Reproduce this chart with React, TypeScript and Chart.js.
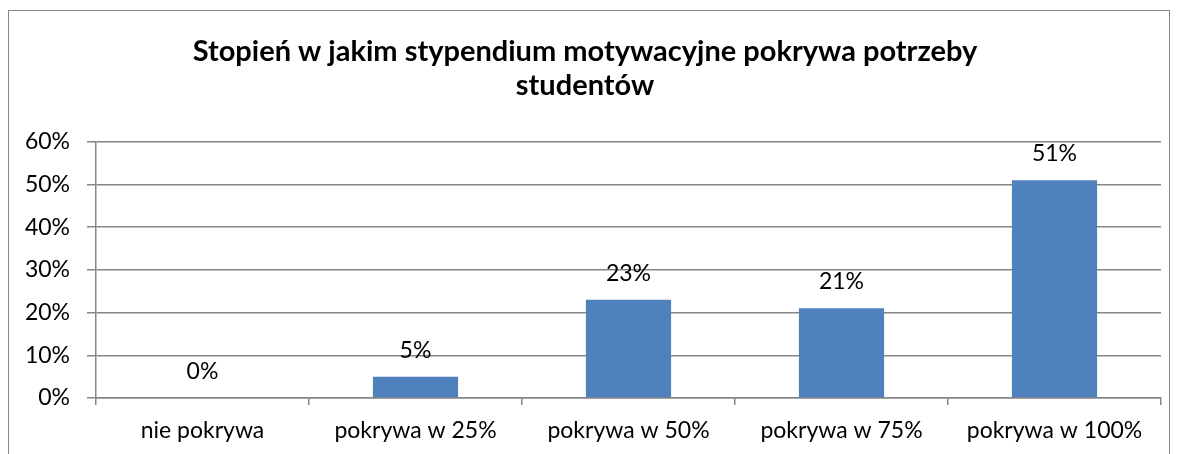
import React, { useEffect, useRef } from "react";
import { Chart, registerables } from "chart.js";

Chart.register(...registerables);

const categories = ["nie pokrywa", "pokrywa w 25%", "pokrywa w 50%", "pokrywa w 75%", "pokrywa w 100%"];
const values = [0, 5, 23, 21, 51];
const titleLines = ["Stopień w jakim stypendium motywacyjne pokrywa potrzeby", "studentów"];
const yMin = 0;
const yMax = 60;
const yStep = 10;

const FONT = "Lato, 'Open Sans', sans-serif";
const GRID = "#868686";

const dataLabels = {
  id: "dataLabels",
  afterDatasetsDraw(chart: any) {
    const ctx = chart.ctx;
    const meta = chart.getDatasetMeta(0);
    ctx.save();
    ctx.font = `23px ${FONT}`;
    ctx.fillStyle = "#000";
    ctx.textAlign = "center";
    ctx.textBaseline = "alphabetic";
    meta.data.forEach((bar: any, i: number) => {
      ctx.fillText(values[i] + "%", bar.x, bar.y - 19);
    });
    ctx.restore();
  },
};

export default function App() {
  const ref = useRef<HTMLCanvasElement | null>(null);
  useEffect(() => {
    if (!ref.current) return;
    const chart = new Chart(ref.current, {
      type: "bar",
      data: {
        labels: categories,
        datasets: [
          {
            data: values,
            backgroundColor: "#4F81BD",
            barPercentage: 0.4,
            categoryPercentage: 1,
          },
        ],
      },
      options: {
        animation: false,
        responsive: false,
        maintainAspectRatio: false,
        layout: { padding: { left: 0, right: 8, top: 0, bottom: 0 } },
        plugins: {
          legend: { display: false },
          tooltip: { enabled: false },
          title: {
            display: true,
            text: titleLines,
            color: "#000",
            font: { family: FONT, size: 29, weight: "bold", lineHeight: 1.17 },
            padding: { top: 24, bottom: 39 },
          },
        },
        scales: {
          x: {
            grid: {
              display: true,
              drawOnChartArea: false,
              drawTicks: true,
              tickLength: 7,
              color: GRID,
              lineWidth: 1.5,
            },
            border: { display: true, color: GRID, width: 1.5 },
            ticks: {
              color: "#000",
              font: { family: FONT, size: 23 },
              padding: 12,
              maxRotation: 0,
              autoSkip: false,
            },
            afterFit(scale: any) {
              scale.height = 81;
            },
          },
          y: {
            min: yMin,
            max: yMax,
            grid: { color: GRID, tickLength: 9, lineWidth: 1.5 },
            border: { display: true, color: GRID, width: 1.5 },
            ticks: {
              stepSize: yStep,
              color: "#000",
              font: { family: FONT, size: 23 },
              padding: 17,
              callback: (v: any) => v + "%",
            },
            afterFit(scale: any) {
              scale.width = 87;
            },
          },
        },
      },
      plugins: [dataLabels],
    });
    return () => chart.destroy();
  }, []);
  return (
    <div
      style={{
        position: "absolute",
        left: 8,
        top: 10,
        width: 1162,
        height: 470,
        border: "1px solid #868686",
        boxSizing: "border-box",
        background: "#fff",
      }}
    >
      <canvas ref={ref} width={1160} height={468} style={{ display: "block" }} />
    </div>
  );
}
